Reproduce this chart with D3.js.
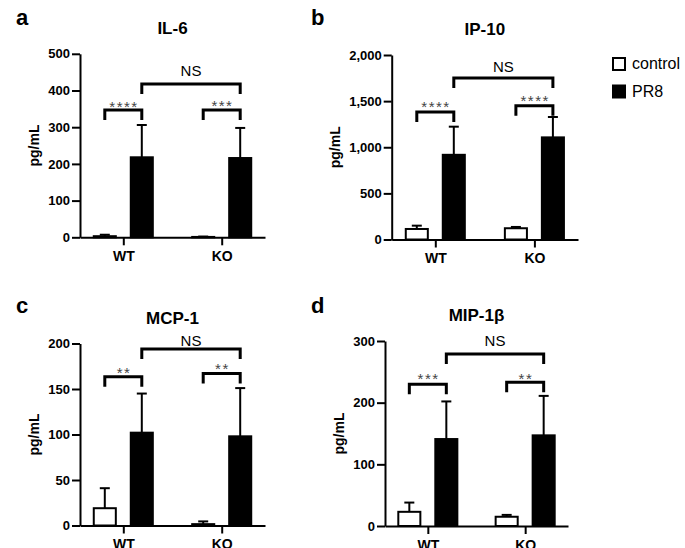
<!DOCTYPE html>
<html><head><meta charset="utf-8">
<script src="https://cdn.jsdelivr.net/npm/d3@7"></script>
<style>body{margin:0;background:#fff} text{font-family:"Liberation Sans",Arial,Helvetica,sans-serif}</style>
</head><body><svg id="c" width="685" height="548"></svg>
<script>
const categories = ["WT","KO"];
const groups = ["control","PR8"];
const panelLetters = ["a","b","c","d"];
const panelTitles = ["IL-6","IP-10","MCP-1","MIP-1β"];
const yMaxes = [500,2000,200,300];
const yTicks = [[0,100,200,300,400,500],[0,500,1000,1500,2000],[0,50,100,150,200],[0,100,200,300]];
const controlMeans = [[3,1],[114,122],[19,1.5],[23,15]];
const controlErrs = [[4,1],[36,14],[22,3],[15,3]];
const pr8Means = [[218,216],[918,1107],[102,98],[141,147]];
const pr8Errs = [[88,82],[305,221],[43,53],[61,64]];
const sigLabels = [["****","***"],["****","****"],["**","**"],["***","**"]];
const sigBracketTops = [[347,347],[1383,1451],[163.5,167],[230,233]];
const sigLabelLevels = [[365,368],[1480,1537],[172,176],[244,245]];
const nsLabel = "NS";
const nsBracketTops = [418,1752,194,279];
const nsLabelLevels = [453,1878,203,300];
const yLabel = "pg/mL";

const frames = [
  {left:80, right:265, top:53.8, bottom:237.3, lx:16, ly:25},
  {left:391.7, right:578, top:55, bottom:239.5, lx:311, ly:25},
  {left:80, right:265, top:343.5, bottom:525.5, lx:16, ly:313},
  {left:385, right:568, top:341, bottom:526, lx:311, ly:312.7}
];

const svg = d3.select("#c");
const FONT_TICK = 13;

frames.forEach((f, i) => {
  const g = svg.append("g");
  const y = d3.scaleLinear().domain([0, yMaxes[i]]).range([f.bottom, f.top]);
  const x = d3.scalePoint().domain(categories).range([f.left, f.right]).padding(0.44);
  const xg = d3.scaleBand().domain(groups).range([-37, 37]).paddingInner(0.35).paddingOuter(0.175);

  // panel letter
  g.append("text").attr("x", f.lx).attr("y", f.ly).text(panelLetters[i])
    .attr("font-size", 22).attr("font-weight", "bold");
  // title
  g.append("text").attr("x", (f.left + f.right) / 2).attr("y", f.top - 20)
    .attr("text-anchor", "middle").attr("font-size", 17).attr("font-weight", "bold").text(panelTitles[i]);

  // bars
  const series = [
    {grp: "control", means: controlMeans[i], errs: controlErrs[i], fill: "#fff"},
    {grp: "PR8", means: pr8Means[i], errs: pr8Errs[i], fill: "#000"}
  ];
  series.forEach(s => {
    categories.forEach((c, j) => {
      const cx = x(c) + xg(s.grp) + xg.bandwidth() / 2;
      const m = s.means[j], e = s.errs[j];
      g.append("line").attr("x1", cx).attr("x2", cx).attr("y1", y(m)).attr("y2", y(m + e))
        .attr("stroke", "#000").attr("stroke-width", 2);
      g.append("line").attr("x1", cx - 5).attr("x2", cx + 5).attr("y1", y(m + e)).attr("y2", y(m + e))
        .attr("stroke", "#000").attr("stroke-width", 2);
      g.append("rect").attr("x", x(c) + xg(s.grp) + 1).attr("width", xg.bandwidth() - 2)
        .attr("y", y(m)).attr("height", Math.max(0, y(0) - y(m)))
        .attr("fill", s.fill).attr("stroke", "#000").attr("stroke-width", 2);
    });
  });

  // axes
  const ya = g.append("g").attr("transform", `translate(${f.left},0)`)
    .call(d3.axisLeft(y).tickValues(yTicks[i]).tickSize(8).tickSizeOuter(0).tickPadding(2).tickFormat(d3.format(",")));
  ya.selectAll("text").attr("font-size", FONT_TICK).attr("font-weight", "bold").attr("font-family", null);
  const xa = g.append("g").attr("transform", `translate(0,${f.bottom})`)
    .call(d3.axisBottom(x).tickSize(8).tickSizeOuter(0).tickPadding(6));
  xa.selectAll("text").attr("font-size", 14).attr("font-weight", "bold").attr("font-family", null);
  [ya, xa].forEach(a => {
    a.attr("font-family", null);
    a.selectAll("path,line").attr("stroke", "#000").attr("stroke-width", 2);
  });

  // y label
  const bb = ya.node().getBBox();
  const ylx = f.left + bb.x - 14;
  g.append("text").attr("transform", `translate(${ylx},${(f.top + f.bottom) / 2}) rotate(-90)`)
    .attr("text-anchor", "middle").attr("dy", "0.35em").attr("font-size", 14).attr("font-weight", "bold").text(yLabel);

  // significance brackets
  const leg = 10;
  const bracket = (x1, x2, top) => `M${x1},${top + leg}V${top}H${x2}V${top + leg}`;
  categories.forEach((c, j) => {
    const x1 = x(c) + xg("control") + xg.bandwidth() / 2;
    const x2 = x(c) + xg("PR8") + xg.bandwidth() / 2;
    const yt = y(sigBracketTops[i][j]);
    g.append("path").attr("d", bracket(x1, x2, yt)).attr("fill", "none").attr("stroke", "#000").attr("stroke-width", 3);
    g.append("text").attr("x", (x1 + x2) / 2 + 0.75).attr("y", y(sigLabelLevels[i][j]) + 0.58 * 15)
      .attr("text-anchor", "middle").attr("font-size", 15).attr("letter-spacing", 1.5)
      .attr("fill", "#444").text(sigLabels[i][j]);
  });
  const n1 = x("WT") + xg("PR8") + xg.bandwidth() / 2;
  const n2 = x("KO") + xg("PR8") + xg.bandwidth() / 2;
  g.append("path").attr("d", bracket(n1, n2, y(nsBracketTops[i]))).attr("fill", "none").attr("stroke", "#000").attr("stroke-width", 3);
  g.append("text").attr("x", (n1 + n2) / 2).attr("y", y(nsLabelLevels[i]) + 0.36 * 15)
    .attr("text-anchor", "middle").attr("font-size", 15).text(nsLabel);
});

// legend
const legend = svg.append("g").attr("transform", "translate(612,57)");
groups.forEach((grp, k) => {
  const lg = legend.append("g").attr("transform", `translate(0,${k * 27.5})`);
  lg.append("rect").attr("x", 1).attr("y", 1).attr("width", 12).attr("height", 12)
    .attr("fill", grp === "control" ? "#fff" : "#000").attr("stroke", "#000").attr("stroke-width", 2);
  lg.append("text").attr("x", 20).attr("y", 12).attr("font-size", 16).text(grp);
});
</script></body></html>
